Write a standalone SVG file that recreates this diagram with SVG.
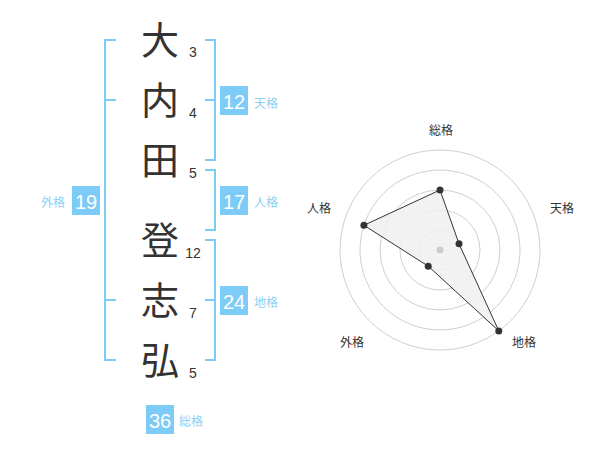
<svg xmlns="http://www.w3.org/2000/svg" width="600" height="470" viewBox="0 0 600 470">
<style>
.kanji{font-family:"Noto Sans CJK JP","Noto Sans CJK SC",sans-serif;font-size:38px;fill:#333;text-anchor:middle}
.num{font-family:"Liberation Sans",Arial,sans-serif;font-size:14px;fill:#333;text-anchor:middle}
.br{fill:none;stroke:#7dcbf7;stroke-width:2}
.box{fill:#7dcbf7}
.bnum{font-family:"Liberation Sans",Arial,sans-serif;font-size:20px;fill:#fff;text-anchor:middle}
.lbl{font-family:"Noto Sans CJK JP","Noto Sans CJK SC",sans-serif;font-size:12px;fill:#8ccff5;text-anchor:middle}
.ring{fill:none;stroke:#cfcfcf;stroke-width:1}
.rlbl{font-family:"Noto Sans CJK JP","Noto Sans CJK SC",sans-serif;font-size:12px;fill:#333;text-anchor:middle}
.pt{fill:#333}
</style>
<rect width="600" height="470" fill="#fff"/>
<g id="name">
<g id="c1"><text class="kanji" x="160" y="54">大</text><text class="num" x="193" y="57">3</text></g>
<g id="c2"><text class="kanji" x="160" y="114">内</text><text class="num" x="193" y="118">4</text></g>
<g id="c3"><text class="kanji" x="160" y="174">田</text><text class="num" x="193" y="178">5</text></g>
<g id="c4"><text class="kanji" x="160" y="254">登</text><text class="num" x="193" y="258">12</text></g>
<g id="c5"><text class="kanji" x="160" y="314">志</text><text class="num" x="193" y="318">7</text></g>
<g id="c6"><text class="kanji" x="160" y="374">弘</text><text class="num" x="193" y="378">5</text></g>
</g>
<g id="connectors">
<path class="br" d="M116,40 H105 V360 H116 M105,100 H116 M105,300 H116"/>
<path class="br" d="M205,40 H215 V160 H205 M215,100 H205"/>
<path class="br" d="M205,170 H215 V230 H205"/>
<path class="br" d="M205,240 H215 V360 H205 M215,300 H205"/>
</g>
<g id="tenkaku"><rect class="box" x="220" y="86" width="28" height="29"/><text class="bnum" x="234" y="109">12</text><text class="lbl" x="266" y="108">天格</text></g>
<g id="jinkaku"><rect class="box" x="220" y="186" width="28" height="29"/><text class="bnum" x="234" y="209">17</text><text class="lbl" x="266" y="207">人格</text></g>
<g id="chikaku"><rect class="box" x="220" y="286" width="28" height="29"/><text class="bnum" x="234" y="309">24</text><text class="lbl" x="266" y="307">地格</text></g>
<g id="gaikaku"><rect class="box" x="72" y="186" width="28" height="29"/><text class="bnum" x="86" y="209">19</text><text class="lbl" x="53" y="207">外格</text></g>
<g id="soukaku"><rect class="box" x="146" y="405" width="28" height="29"/><text class="bnum" x="160" y="428">36</text><text class="lbl" x="191" y="426">総格</text></g>
<g id="radar">
<circle class="ring" cx="440" cy="250" r="20"/>
<circle class="ring" cx="440" cy="250" r="40"/>
<circle class="ring" cx="440" cy="250" r="60"/>
<circle class="ring" cx="440" cy="250" r="80"/>
<circle class="ring" cx="440" cy="250" r="100"/>
<polygon points="440,190 459.02,243.82 498.78,330.90 428.24,266.18 363.92,225.28" fill="#f0f0f0" fill-opacity="0.85" stroke="#333" stroke-width="1"/>
<circle cx="440" cy="250" r="3.5" fill="#cccccc"/>
<circle class="pt" cx="440" cy="190" r="3.5"/>
<circle class="pt" cx="459.02" cy="243.82" r="3.5"/>
<circle class="pt" cx="498.78" cy="330.90" r="3.5"/>
<circle class="pt" cx="428.24" cy="266.18" r="3.5"/>
<circle class="pt" cx="363.92" cy="225.28" r="3.5"/>
<text class="rlbl" x="441" y="135">総格</text>
<text class="rlbl" x="562" y="213">天格</text>
<text class="rlbl" x="524" y="347">地格</text>
<text class="rlbl" x="352" y="347">外格</text>
<text class="rlbl" x="319" y="213">人格</text>
</g>
</svg>
